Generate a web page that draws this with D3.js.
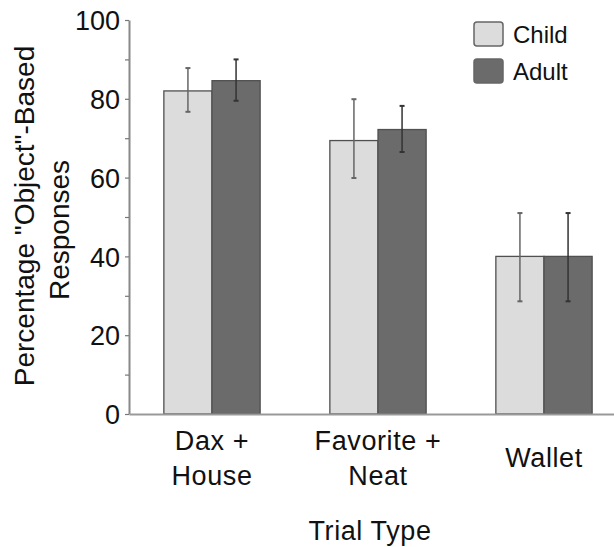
<!DOCTYPE html>
<html>
<head>
    <meta charset="utf-8">
    <style>
        body { margin: 0; background: white; }
        text { font-family: "Liberation Sans", Arial, Helvetica, sans-serif; fill: #111; }
    </style>
</head>
<body>
    <svg width="614" height="547"></svg>

<script src="https://d3js.org/d3.v7.min.js"></script>
<script>
    // values
    let categories = ["Dax +\nHouse", "Favorite +\nNeat", "Wallet"]
    let groups = ["Child", "Adult"]
    let childMean = [82.0, 69.4, 40.0]
    let childLow = [76.7, 59.9, 28.6]
    let childHigh = [87.8, 79.9, 51.0]
    let adultMean = [84.6, 72.2, 40.0]
    let adultLow = [79.5, 66.5, 28.6]
    let adultHigh = [90.0, 78.2, 51.0]
    let yTicks = [0, 10, 20, 30, 40, 50, 60, 70, 80, 90, 100]

    let colors = { Child: "#dcdcdc", Adult: "#6b6b6b" }
    let errColors = { Child: "#666", Adult: "#333" }

    let rows = []
    categories.forEach((c, i) => {
        rows.push({ cat: c, group: "Child", mean: childMean[i], lo: childLow[i], hi: childHigh[i] })
        rows.push({ cat: c, group: "Adult", mean: adultMean[i], lo: adultLow[i], hi: adultHigh[i] })
    })

    let svg = d3.select("svg")

    let y = d3.scaleLinear().domain([0, 100]).range([414, 20])

    let x0 = d3.scaleBand()
        .domain(categories)
        .range([129, 627])
        .paddingInner(0.42)
        .paddingOuter(0.21)

    let x1 = d3.scaleBand()
        .domain(groups)
        .range([0, x0.bandwidth()])

    // bars
    svg.selectAll(".bar")
        .data(rows)
        .join("rect")
        .attr("class", "bar")
        .attr("x", d => x0(d.cat) + x1(d.group))
        .attr("y", d => y(d.mean))
        .attr("width", x1.bandwidth())
        .attr("height", d => y(0) - y(d.mean))
        .style("fill", d => colors[d.group])
        .style("stroke", "#505050")
        .style("stroke-width", 1.3)

    // error bars
    let err = svg.selectAll(".err")
        .data(rows)
        .join("g")
        .attr("class", "err")
        .attr("transform", d => `translate(${x0(d.cat) + x1(d.group) + x1.bandwidth() / 2},0)`)
        .style("stroke", d => errColors[d.group])
        .style("stroke-width", 1.5)

    err.append("line")
        .attr("y1", d => y(d.lo))
        .attr("y2", d => y(d.hi))
    err.append("line")
        .attr("x1", -2.5).attr("x2", 2.5)
        .style("stroke-width", 2)
        .attr("y1", d => y(d.hi)).attr("y2", d => y(d.hi))
    err.append("line")
        .attr("x1", -2.5).attr("x2", 2.5)
        .style("stroke-width", 2)
        .attr("y1", d => y(d.lo)).attr("y2", d => y(d.lo))

    // y axis
    let yAxis = svg.append("g")
        .attr("transform", "translate(129,0)")
        .call(d3.axisLeft(y)
            .tickValues(yTicks)
            .tickSize(4)
            .tickSizeOuter(0)
            .tickPadding(5)
            .tickFormat(d => d % 20 === 0 ? d : ""))
    yAxis.select(".domain").style("stroke", "#888").style("stroke-width", 2)
    yAxis.selectAll(".tick line").style("stroke", "#777").style("stroke-width", 1.2)
    yAxis.selectAll(".tick text")
        .style("font-size", "27px")
        .attr("dy", "0.36em")
        .style("fill", "#111")

    // x axis
    let xAxis = svg.append("g")
        .attr("transform", "translate(0,414)")
        .call(d3.axisBottom(x0).tickSize(0).tickSizeOuter(0).tickFormat(""))
    xAxis.select(".domain").style("stroke", "#999").style("stroke-width", 2)

    // category labels, two lines where needed
    svg.selectAll(".cat-label")
        .data(categories)
        .join("text")
        .attr("class", "cat-label")
        .attr("text-anchor", "middle")
        .style("font-size", "27px")
        .style("letter-spacing", "0.6px")
        .each(function (d) {
            let lines = d.split("\n")
            let cx = x0(d) + x0.bandwidth() / 2
            let first = 467 - (lines.length - 1) * 17.5
            d3.select(this).selectAll("tspan")
                .data(lines)
                .join("tspan")
                .attr("x", cx)
                .attr("y", (l, i) => first + i * 35)
                .text(l => l)
        })

    svg.append("text")
        .attr("x", 370)
        .attr("y", 540)
        .attr("text-anchor", "middle")
        .style("font-size", "27px")
        .style("letter-spacing", "0.6px")
        .text("Trial Type")

    // y label
    svg.append("text")
        .attr("transform", "translate(34,216) rotate(-90)")
        .attr("text-anchor", "middle")
        .style("font-size", "28px")
        .text('Percentage "Object"-Based')
    svg.append("text")
        .attr("transform", "translate(69,230) rotate(-90)")
        .attr("text-anchor", "middle")
        .style("font-size", "28px")
        .text("Responses")

    // legend
    let legend = svg.selectAll(".legend")
        .data(groups)
        .join("g")
        .attr("class", "legend")
        .attr("transform", (d, i) => `translate(474,${22 + i * 37})`)

    legend.append("rect")
        .attr("width", 29)
        .attr("height", 24)
        .attr("rx", 3)
        .style("fill", d => colors[d])
        .style("stroke", "#666")
        .style("stroke-width", 1.5)

    legend.append("text")
        .attr("x", 39)
        .attr("y", 21)
        .style("font-size", "24px")
        .text(d => d)
</script>
</body>
</html>
